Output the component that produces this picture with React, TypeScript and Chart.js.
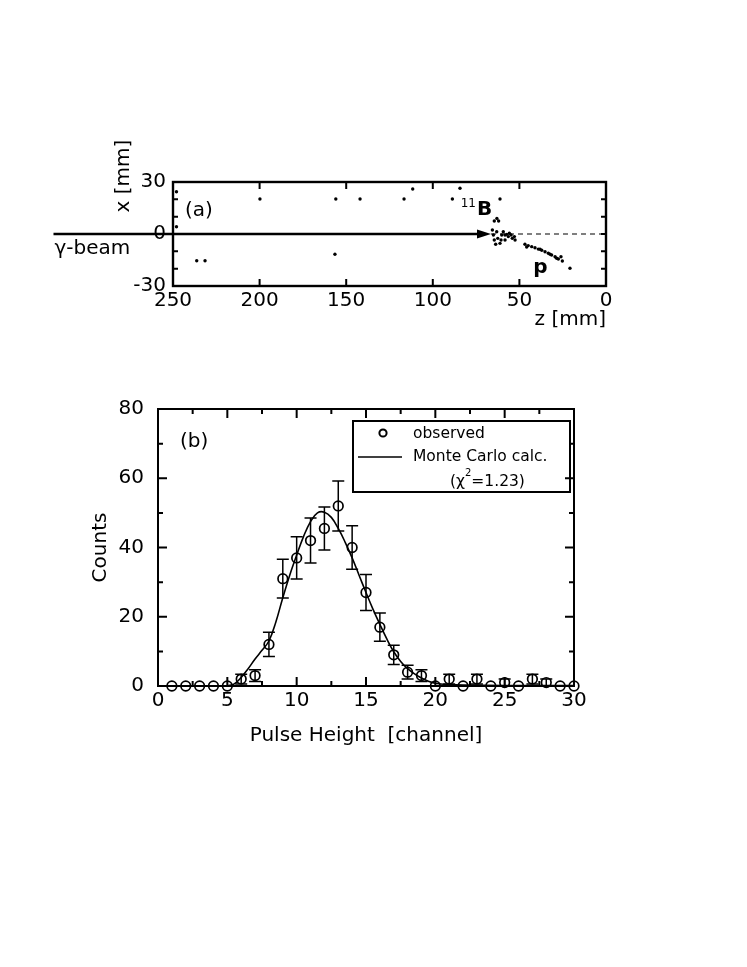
import React, { useEffect, useRef } from 'react';
import { Chart, registerables } from 'chart.js';

Chart.register(...registerables);

const FONT = '"DejaVu Sans", sans-serif';

// ---------- Panel (a): event display (z, x in mm) ----------
const trackZ = [248, 248, 236.3, 231.5, 199.8, 156, 156.5, 142, 116.6, 111.6, 88.7, 84.3, 61.2,
  63, 64.5, 62,
  65.6, 65, 64.5, 63.7, 62.5, 63.1, 60.2, 59.3, 58.3, 57.3, 56.4, 55.8, 54.8, 54.1, 52.9, 52.5, 58.3, 60.6, 61.2,
  46.8, 45.8, 44.9, 42.9, 41, 39.1, 38.1, 37.1, 35.2, 33.3, 32.3, 31.4, 29.4, 28.5, 27.5, 26, 25.2, 20.8];
const trackX = [24.4, 4.2, -15.4, -15.4, 20.2, 20.2, -11.7, 20.2, 20.2, 26, 20.2, 26.4, 20.2,
  9, 7.5, 7.5,
  2.3, -0.6, -3.5, -5.9, -2.5, 1.3, -0.6, 1.3, -0.6, -0.2, -1.5, 0.4, -0.6, -2.5, -1.5, -3.5, -3.5, -3.5, -5.4,
  -5.9, -7.5, -6.7, -7.3, -7.9, -8.7, -8.8, -9.4, -10.2, -11.1, -11.7, -12.1, -13.1, -14, -14.4, -13.1, -15.6, -19.8];
const beamZ = [319, 66.4]; // beam start (outside frame), arrow tip
const zTickLabels = [0, 50, 100, 150, 200, 250];
const xTickLabels = [-30, 0, 30];
const boronLabel = [74.5, 11]; // z, x of "B" label anchor
const protonLabel = [42, -22.5]; // z, x of "p" label anchor

// ---------- Panel (b): pulse height spectrum ----------
const channels = [1, 2, 3, 4, 5, 6, 7, 8, 9, 10, 11, 12, 13, 14, 15, 16, 17, 18, 19, 20, 21, 22, 23, 24, 25, 26, 27, 28, 29, 30];
const counts = [0, 0, 0, 0, 0, 2, 3, 12, 31, 37, 42, 45.5, 52, 40, 27, 17, 9, 4, 3, 0, 2, 0, 2, 0, 1, 0, 2, 1, 0, 0];
const countErrors = [0, 0, 0, 0, 0, 1.4, 1.7, 3.5, 5.6, 6.1, 6.5, 6.2, 7.2, 6.3, 5.2, 4.1, 2.8, 2, 1.7, 0, 1.4, 0, 1.4, 0, 1, 0, 1.4, 1, 0, 0];
const mcChannels = [5, 5.5, 6, 6.5, 7, 7.5, 8, 8.5, 9, 9.5, 10, 10.5, 11, 11.5, 12, 12.5, 13, 13.5, 14, 14.5, 15, 15.5, 16, 16.5, 17, 17.5, 18, 18.5, 19, 19.5, 20, 21, 22, 25, 30];
const mcCounts = [0, 0.6, 2.5, 5, 7.8, 10.3, 13, 18.5, 25.5, 32, 37.8, 43.2, 47.5, 50, 50.2, 48.7, 45.5, 41.5, 37, 32, 27, 22.2, 17.8, 13.6, 9.9, 7.1, 5, 3.5, 2.3, 1.4, 0.8, 0.4, 0.25, 0.15, 0.1];
const chiSquared = '1.23';

Chart.defaults.font.family = FONT;
Chart.defaults.font.size = 20;
Chart.defaults.color = '#000';

type TickCfg = {
  frame: number; width: number;
  xMajorLen: number; xMinorLen: number; yMajorLen: number; yMinorLen: number;
  xMajor: (v: number) => boolean; yMajor: (v: number) => boolean;
};

function drawFrameTicks(chart: any, c: TickCfg) {
  const { ctx, chartArea: a } = chart;
  const xs = chart.scales.x, ys = chart.scales.y;
  ctx.save();
  ctx.strokeStyle = '#000';
  ctx.lineWidth = c.width;
  ctx.beginPath();
  for (const t of xs.ticks) {
    const p = xs.getPixelForValue(t.value);
    if (Math.abs(p - a.left) < 1 || Math.abs(p - a.right) < 1) continue;
    const len = c.xMajor(t.value) ? c.xMajorLen : c.xMinorLen;
    ctx.moveTo(p, a.bottom); ctx.lineTo(p, a.bottom - len);
    ctx.moveTo(p, a.top); ctx.lineTo(p, a.top + len);
  }
  for (const t of ys.ticks) {
    const p = ys.getPixelForValue(t.value);
    if (Math.abs(p - a.top) < 1 || Math.abs(p - a.bottom) < 1) continue;
    const len = c.yMajor(t.value) ? c.yMajorLen : c.yMinorLen;
    ctx.moveTo(a.left, p); ctx.lineTo(a.left + len, p);
    ctx.moveTo(a.right, p); ctx.lineTo(a.right - len, p);
  }
  ctx.stroke();
  ctx.lineWidth = c.frame;
  ctx.strokeRect(a.left, a.top, a.right - a.left, a.bottom - a.top);
  ctx.restore();
}

function setFont(ctx: CanvasRenderingContext2D, size: number, bold = false) {
  ctx.font = `${bold ? 'bold ' : ''}${size}px ${FONT}`;
  ctx.fillStyle = '#000';
}

const panelAPlugin = {
  id: 'panelA',
  afterDraw(chart: any) {
    const { ctx, chartArea: a } = chart;
    const xs = chart.scales.x, ys = chart.scales.y;
    drawFrameTicks(chart, {
      frame: 2.4, width: 2, xMajorLen: 7, xMinorLen: 7, yMajorLen: 5, yMinorLen: 5,
      xMajor: () => true, yMajor: () => true,
    });
    ctx.save();
    const y0 = ys.getPixelForValue(0);
    const tip = xs.getPixelForValue(beamZ[1]);
    const start = xs.getPixelForValue(beamZ[0]);
    ctx.strokeStyle = '#000';
    ctx.lineWidth = 1.2;
    ctx.setLineDash([5, 4]);
    ctx.beginPath();
    ctx.moveTo(tip, y0); ctx.lineTo(a.right, y0);
    ctx.stroke();
    ctx.setLineDash([]);
    ctx.lineWidth = 2.6;
    ctx.beginPath();
    ctx.moveTo(start, y0); ctx.lineTo(tip - 10, y0);
    ctx.stroke();
    ctx.beginPath();
    ctx.moveTo(tip, y0); ctx.lineTo(tip - 14, y0 - 4.5); ctx.lineTo(tip - 14, y0 + 4.5); ctx.closePath();
    ctx.fillStyle = '#000';
    ctx.fill();
    setFont(ctx, 20);
    ctx.textBaseline = 'middle';
    ctx.textAlign = 'left';
    ctx.fillText('(a)', a.left + 12, a.top + 29);
    ctx.fillText('\u03b3-beam', start + 1, y0 + 15);
    ctx.textAlign = 'right';
    ctx.fillText('z [mm]', a.right, a.bottom + 34);
    ctx.save();
    ctx.translate(a.left - 49, a.top - 6);
    ctx.rotate(-Math.PI / 2);
    ctx.textAlign = 'center';
    ctx.fillText('x [mm]', 0, 0);
    ctx.restore();
    const bx = xs.getPixelForValue(boronLabel[0]);
    const by = ys.getPixelForValue(boronLabel[1]);
    ctx.textBaseline = 'alphabetic';
    setFont(ctx, 20, true);
    ctx.textAlign = 'left';
    ctx.fillText('B', bx, by);
    setFont(ctx, 12);
    ctx.textAlign = 'right';
    ctx.fillText('11', bx - 1, by - 8);
    const px = xs.getPixelForValue(protonLabel[0]);
    const py = ys.getPixelForValue(protonLabel[1]);
    setFont(ctx, 20, true);
    ctx.textAlign = 'left';
    ctx.fillText('p', px, py);
    ctx.restore();
  },
};

const panelBPlugin = {
  id: 'panelB',
  afterDatasetsDraw(chart: any) {
    const { ctx } = chart;
    const xs = chart.scales.x, ys = chart.scales.y;
    ctx.save();
    ctx.strokeStyle = '#000';
    ctx.lineWidth = 1.5;
    ctx.beginPath();
    channels.forEach((c, i) => {
      const e = countErrors[i];
      if (!e) return;
      const x = xs.getPixelForValue(c);
      const yt = ys.getPixelForValue(counts[i] + e);
      const yb = ys.getPixelForValue(Math.max(0, counts[i] - e));
      ctx.moveTo(x, yt); ctx.lineTo(x, yb);
      ctx.moveTo(x - 6, yt); ctx.lineTo(x + 6, yt);
      ctx.moveTo(x - 6, yb); ctx.lineTo(x + 6, yb);
    });
    ctx.stroke();
    ctx.restore();
  },
  afterDraw(chart: any) {
    const { ctx, chartArea: a } = chart;
    drawFrameTicks(chart, {
      frame: 2, width: 2, xMajorLen: 9, xMinorLen: 5, yMajorLen: 9, yMinorLen: 5,
      xMajor: (v) => v % 5 === 0, yMajor: (v) => v % 20 === 0,
    });
    ctx.save();
    setFont(ctx, 20);
    ctx.textBaseline = 'middle';
    ctx.textAlign = 'left';
    ctx.fillText('(b)', a.left + 22, a.top + 33);
    const w = 217, h = 71;
    const x0 = a.right - 221, y0 = a.top + 12;
    ctx.strokeStyle = '#000';
    ctx.lineWidth = 2;
    ctx.strokeRect(x0, y0, w, h);
    ctx.beginPath();
    ctx.arc(x0 + 30, y0 + 12, 3.6, 0, Math.PI * 2);
    ctx.stroke();
    ctx.lineWidth = 1.6;
    ctx.beginPath();
    ctx.moveTo(x0 + 5, y0 + 36); ctx.lineTo(x0 + 49, y0 + 36);
    ctx.stroke();
    setFont(ctx, 15.5);
    ctx.fillText('observed', x0 + 60, y0 + 13);
    ctx.fillText('Monte Carlo calc.', x0 + 60, y0 + 36);
    let tx = x0 + 97;
    const ty = y0 + 61;
    ctx.fillText('(\u03c7', tx, ty);
    tx += ctx.measureText('(\u03c7').width;
    setFont(ctx, 10);
    ctx.fillText('2', tx, ty - 9);
    tx += ctx.measureText('2').width;
    setFont(ctx, 15.5);
    ctx.fillText('=' + chiSquared + ')', tx, ty);
    ctx.restore();
  },
};

function PanelA() {
  const ref = useRef<HTMLCanvasElement | null>(null);
  useEffect(() => {
    if (!ref.current) return;
    const chart = new Chart(ref.current, {
      type: 'scatter',
      data: {
        datasets: [{
          data: trackZ.map((z, i) => ({ x: z, y: trackX[i] })),
          pointRadius: 1.7,
          pointBackgroundColor: '#000',
          pointBorderWidth: 0,
          showLine: false,
        }],
      },
      options: {
        animation: false,
        responsive: false,
        events: [],
        layout: { padding: { left: 0, top: 42, right: 141, bottom: 0 } },
        plugins: { legend: { display: false }, tooltip: { enabled: false } },
        scales: {
          x: {
            type: 'linear', min: 0, max: 250, reverse: true,
            grid: { display: false, drawTicks: false }, border: { display: false },
            ticks: {
              stepSize: 50, padding: 3, maxRotation: 0, autoSkip: false, color: '#000',
              callback: (v: any) => (zTickLabels.includes(Number(v)) ? String(v) : ''),
            },
            afterFit: (s: any) => { s.height = 74; },
          },
          y: {
            type: 'linear', min: -30, max: 30,
            grid: { display: false, drawTicks: false }, border: { display: false },
            ticks: {
              stepSize: 10, padding: 7, autoSkip: false, color: '#000',
              callback: (v: any) => (xTickLabels.includes(Number(v)) ? String(v) : ''),
            },
            afterFit: (s: any) => { s.width = 173; },
          },
        },
      },
      plugins: [panelAPlugin],
    } as any);
    return () => chart.destroy();
  }, []);
  return <canvas ref={ref} width={747} height={220} style={{ position: 'absolute', left: 0, top: 140, width: 747, height: 220 }} />;
}

function PanelB() {
  const ref = useRef<HTMLCanvasElement | null>(null);
  useEffect(() => {
    if (!ref.current) return;
    const chart = new Chart(ref.current, {
      type: 'scatter',
      data: {
        datasets: [
          {
            label: 'observed',
            data: channels.map((c, i) => ({ x: c, y: counts[i] })),
            pointRadius: 4.8,
            pointBorderWidth: 1.7,
            pointBorderColor: '#000',
            pointBackgroundColor: 'rgba(0,0,0,0)',
            showLine: false,
            clip: false,
          },
          {
            label: 'Monte Carlo calc.',
            data: mcChannels.map((c, i) => ({ x: c, y: mcCounts[i] })),
            showLine: true,
            pointRadius: 0,
            borderColor: '#000',
            borderWidth: 1.6,
            tension: 0.4,
            fill: false,
          },
        ],
      },
      options: {
        animation: false,
        responsive: false,
        events: [],
        layout: { padding: { left: 0, top: 29, right: 173, bottom: 0 } },
        plugins: { legend: { display: false }, tooltip: { enabled: false } },
        scales: {
          x: {
            type: 'linear', min: 0, max: 30,
            grid: { display: false, drawTicks: false }, border: { display: false },
            ticks: {
              stepSize: 2.5, padding: 3, maxRotation: 0, autoSkip: false, color: '#000',
              callback: (v: any) => (Number(v) % 5 === 0 ? String(v) : ''),
            },
            title: { display: true, text: 'Pulse Height  [channel]', color: '#000', font: { size: 20 }, padding: { top: 0, bottom: 32 } },
            afterFit: (s: any) => { s.height = 94; },
          },
          y: {
            type: 'linear', min: 0, max: 80,
            grid: { display: false, drawTicks: false }, border: { display: false },
            ticks: {
              stepSize: 10, padding: 14, autoSkip: false, color: '#000',
              callback: (v: any) => (Number(v) % 20 === 0 ? String(v) : ''),
            },
            title: { display: true, text: 'Counts', color: '#000', font: { size: 20 }, padding: { top: 89, bottom: 0 } },
            afterFit: (s: any) => { s.width = 158; },
          },
        },
      },
      plugins: [panelBPlugin],
    } as any);
    return () => chart.destroy();
  }, []);
  return <canvas ref={ref} width={747} height={400} style={{ position: 'absolute', left: 0, top: 380, width: 747, height: 400 }} />;
}

export default function App() {
  return (
    <div style={{ position: 'absolute', left: 0, top: 0, width: 747, height: 967, background: '#fff' }}>
      <PanelA />
      <PanelB />
    </div>
  );
}
